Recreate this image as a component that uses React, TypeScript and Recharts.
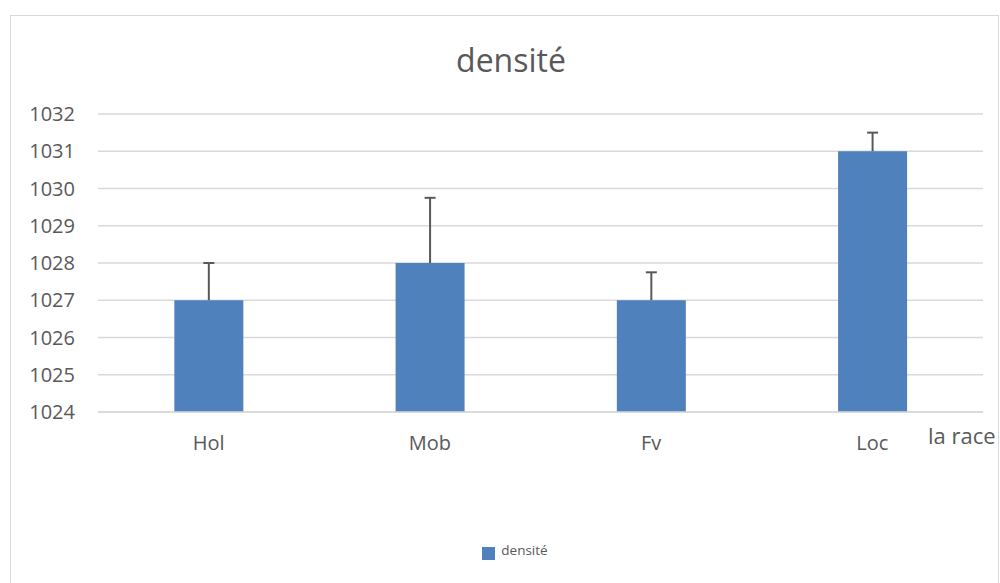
import React from 'react';
import { BarChart, Bar, XAxis, YAxis, CartesianGrid, Legend, Rectangle } from 'recharts';

const races = ['Hol', 'Mob', 'Fv', 'Loc'];
const densite = [1027, 1028, 1027, 1031];
const ecartHaut = [1, 1.75, 0.75, 0.5];
const yMin = 1024;
const yTicks = [1024, 1025, 1026, 1027, 1028, 1029, 1030, 1031, 1032];

const data = races.map((race, i) => ({
  race,
  densite: densite[i],
  err: ecartHaut[i],
}));

const FONT = '"Open Sans", sans-serif';
const GREY = '#595959';
const BLUE = '#4F81BD';

// bar + upper error whisker only (like Excel's "plus" error bars)
const BarWithError = (props: any) => {
  const { x, y, width, height, payload } = props;
  const pxPerUnit = height / (payload.densite - yMin);
  const cx = x + width / 2;
  const top = y - payload.err * pxPerUnit;
  return (
    <g>
      <Rectangle x={x} y={y} width={width} height={height} fill={BLUE} />
      <line x1={cx} x2={cx} y1={y} y2={top} stroke={GREY} strokeWidth={2} />
      <line x1={cx - 5.5} x2={cx + 5.5} y1={top} y2={top} stroke={GREY} strokeWidth={2} />
    </g>
  );
};

const renderLegend = () => (
  <div style={{ display: 'flex', justifyContent: 'center', alignItems: 'center', fontFamily: FONT, height: 18 }}>
    <div style={{ width: 13, height: 13, background: BLUE, marginRight: 6, marginTop: 6 }} />
    <span style={{ fontSize: 13.5, color: GREY }}>densité</span>
  </div>
);

const App: React.FC = () => {
  return (
    <div style={{ position: 'absolute', left: 0, top: 0, width: 1000, height: 583, overflow: 'hidden', background: '#fff' }}>
      <div style={{ position: 'absolute', left: 10, top: 15, width: 987, height: 620, border: '1px solid #d9d9d9' }} />
      <div
        style={{
          position: 'absolute', left: 10, width: 1002, top: 38, textAlign: 'center',
          fontFamily: FONT, fontSize: 32, color: GREY, lineHeight: 'normal',
        }}
      >
        densité
      </div>
      <div
        style={{
          position: 'absolute', left: 928, top: 420, fontFamily: FONT, fontSize: 22,
          color: GREY, lineHeight: 'normal', whiteSpace: 'nowrap',
        }}
      >
        la race
      </div>
      <div style={{ position: 'absolute', left: 0, top: 0 }}>
        <BarChart
          width={1000}
          height={583}
          data={data}
          margin={{ top: 114, right: 17, bottom: 123, left: 0 }}
          barCategoryGap="34.5%"
        >
          <CartesianGrid vertical={false} stroke="#d9d9d9" strokeWidth={1.5} />
          <XAxis
            dataKey="race"
            axisLine={{ stroke: '#d9d9d9', strokeWidth: 1.5 }}
            tickLine={false}
            tickSize={0}
            tickMargin={24}
            tick={{ fill: GREY, fontSize: 20, fontFamily: FONT }}
            height={30}
          />
          <YAxis
            domain={[1024, 1032]}
            ticks={yTicks}
            axisLine={false}
            tickLine={false}
            tickSize={0}
            tickMargin={23}
            width={98}
            tick={{ fill: GREY, fontSize: 20, fontFamily: FONT }}
          />
          <Legend
            verticalAlign="bottom"
            content={renderLegend}
            wrapperStyle={{ position: 'absolute', top: 541, left: 15, width: 1000, height: 18 }}
          />
          <Bar dataKey="densite" name="densité" fill={BLUE} isAnimationActive={false} shape={BarWithError} />
        </BarChart>
      </div>
    </div>
  );
};

export default App;
